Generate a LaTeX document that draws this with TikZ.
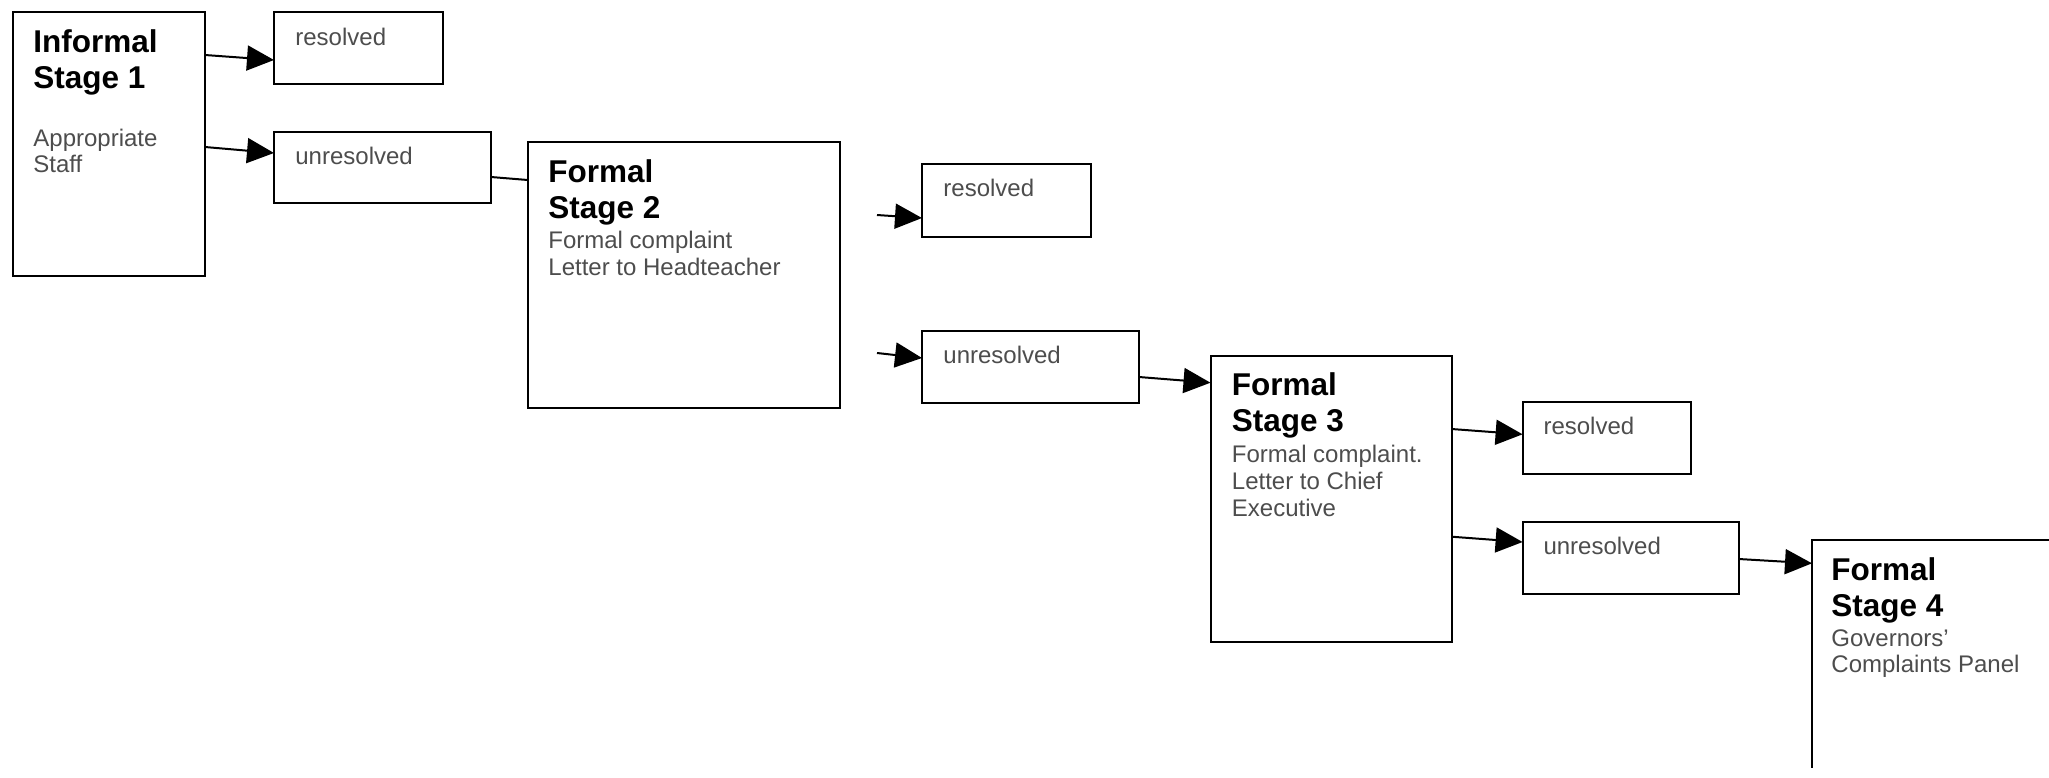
\documentclass[tikz,border=0pt]{standalone}
\usepackage{fontspec}
\setmainfont{Liberation Sans}
\usetikzlibrary{arrows.meta}
\definecolor{txtgray}{RGB}{77,77,77}
\begin{document}
\begin{tikzpicture}[x=0.5pt,y=-0.5pt,
  box/.style={draw=black, line width=1pt, rectangle, inner sep=0pt, outer sep=0pt, anchor=north west},
  head/.style={anchor=base west, inner sep=0pt, font=\fontsize{15.75pt}{18pt}\selectfont\bfseries, text=black},
  body/.style={anchor=base west, inner sep=0pt, font=\fontsize{12pt}{13pt}\selectfont, text=txtgray},
  arr/.style={line width=1pt, -{Triangle[length=13.5pt,width=12.5pt]}},
  ln/.style={line width=1pt}]
\useasboundingbox (0,0) rectangle (2049,777);
\fill[white] (0,0) rectangle (2049,777);

% boxes
\node[box, minimum width=96.15pt, minimum height=132pt] (s1) at (12.7,12) {};
\node[box, minimum width=84.5pt, minimum height=36pt] (r1) at (274,12) {};
\node[box, minimum width=108.5pt, minimum height=35.5pt] (u1) at (274,132) {};
\node[box, minimum width=156.15pt, minimum height=133.15pt] (s2) at (527.7,141.7) {};
\node[box, minimum width=84.3pt, minimum height=36.35pt] (r2) at (922,164) {};
\node[box, minimum width=108.5pt, minimum height=36pt] (u2) at (922,331) {};
\node[box, minimum width=120.55pt, minimum height=143pt] (s3) at (1210.5,355.7) {};
\node[box, minimum width=84.2pt, minimum height=36.15pt] (r3) at (1522.6,401.7) {};
\node[box, minimum width=108.1pt, minimum height=36.15pt] (u3) at (1522.6,521.7) {};
\begin{scope}
\clip (0,0) rectangle (2049,767);
\node[box, minimum width=200pt, minimum height=200pt] (s4) at (1812,540) {};
\end{scope}

% texts
\node[head] (s1h1) at ([shift={(20.3,40)}]s1.north west) {Informal};
\node[head] (s1h2) at ([shift={(20.3,76)}]s1.north west) {Stage 1};
\node[body] (s1b1) at ([shift={(20.3,134)}]s1.north west) {Appropriate};
\node[body] (s1b2) at ([shift={(20.3,160)}]s1.north west) {Staff};

\node[body] (r1t) at ([shift={(21,33)}]r1.north west) {resolved};
\node[body] (u1t) at ([shift={(21,32)}]u1.north west) {unresolved};

\node[head] (s2h1) at ([shift={(20.3,40.3)}]s2.north west) {Formal};
\node[head] (s2h2) at ([shift={(20.3,76.3)}]s2.north west) {Stage 2};
\node[body] (s2b1) at ([shift={(20.3,106.3)}]s2.north west) {Formal complaint};
\node[body] (s2b2) at ([shift={(20.3,133.3)}]s2.north west) {Letter to Headteacher};

\node[body] (r2t) at ([shift={(21,32)}]r2.north west) {resolved};
\node[body] (u2t) at ([shift={(21,32.3)}]u2.north west) {unresolved};

\node[head] (s3h1) at ([shift={(21,39.3)}]s3.north west) {Formal};
\node[head] (s3h2) at ([shift={(21,76)}]s3.north west) {Stage 3};
\node[body] (s3b1) at ([shift={(21,107)}]s3.north west) {Formal complaint.};
\node[body] (s3b2) at ([shift={(21,133.3)}]s3.north west) {Letter to Chief};
\node[body] (s3b3) at ([shift={(21,160.3)}]s3.north west) {Executive};

\node[body] (r3t) at ([shift={(20.5,33)}]r3.north west) {resolved};
\node[body] (u3t) at ([shift={(20.5,33)}]u3.north west) {unresolved};

\node[head] (s4h1) at ([shift={(19,40)}]s4.north west) {Formal};
\node[head] (s4h2) at ([shift={(19,76)}]s4.north west) {Stage 4};
\node[body] (s4b1) at ([shift={(19,106)}]s4.north west) {Governors’};
\node[body] (s4b2) at ([shift={(19,132.7)}]s4.north west) {Complaints Panel};

% connectors
\coordinate (c2a) at (877,215);
\coordinate (c2b) at (877,353);
\draw[arr] ([shift={(0,43)}]s1.north east) -- ([shift={(0,48)}]r1.north west);
\draw[arr] ([shift={(0,135)}]s1.north east) -- ([shift={(0,21)}]u1.north west);
\draw[ln] ([shift={(0,45)}]u1.north east) -- ([shift={(0,38.3)}]s2.north west);
\draw[arr] (c2a) -- ([shift={(0,54)}]r2.north west);
\draw[arr] (c2b) -- ([shift={(0,27)}]u2.north west);
\draw[arr] ([shift={(0,46)}]u2.north east) -- ([shift={(0,27)}]s3.north west);
\draw[arr] ([shift={(0,73.3)}]s3.north east) -- ([shift={(0,32.6)}]r3.north west);
\draw[arr] ([shift={(0,181)}]s3.north east) -- ([shift={(0,20.3)}]u3.north west);
\draw[arr] ([shift={(0,37.3)}]u3.north east) -- ([shift={(0,23.3)}]s4.north west);
\end{tikzpicture}
\end{document}
